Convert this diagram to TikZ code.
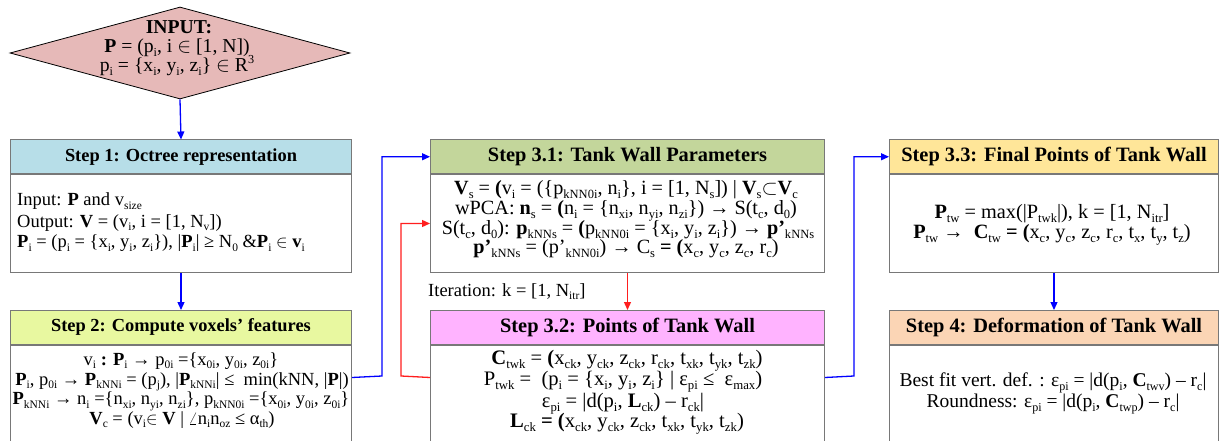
\documentclass[tikz,border=0pt]{standalone}
\usepackage{graphicx}
\usepackage{fontspec}
\setmainfont{Liberation Serif}
\usetikzlibrary{shapes.geometric,arrows.meta,calc}
\newcommand\sbx[1]{\raisebox{-0.2em}{\scalebox{0.62}{#1}}}
\newcommand\spx[1]{\raisebox{0.42em}{\scalebox{0.62}{#1}}}
\definecolor{cdia}{HTML}{E6B9B8}
\definecolor{csa}{HTML}{B7DEE8}
\definecolor{csb}{HTML}{E8F8A0}
\definecolor{csc}{HTML}{C3D69B}
\definecolor{csd}{HTML}{FFB3FF}
\definecolor{cse}{HTML}{FFE699}
\definecolor{csf}{HTML}{FBD5B5}
\definecolor{blu}{RGB}{0,0,255}
\definecolor{rd}{RGB}{255,30,30}
\definecolor{bord}{RGB}{120,120,120}
\begin{document}
\begin{tikzpicture}[x=1pt,y=-1pt,
  hdr/.style={draw=bord, line width=1pt, minimum height=33.5pt, inner sep=0pt, anchor=north west, font=\bfseries\fontsize{20.4}{22}\selectfont},
  hdrs/.style={hdr, font=\bfseries\fontsize{18.4}{20}\selectfont},
  bod/.style={draw=bord, line width=1pt, fill=white, inner sep=0pt, anchor=north},
  lnc/.style={anchor=base, inner sep=0pt},
  lnl/.style={anchor=base west, inner sep=0pt},
  fa/.style={font=\fontsize{18.5}{20}\selectfont},
  fb/.style={font=\fontsize{19.7}{20}\selectfont},
  fd/.style={font=\fontsize{20.2}{20}\selectfont},
  fe/.style={font=\fontsize{20.6}{20}\selectfont},
  ff/.style={font=\fontsize{20.3}{20}\selectfont},
  fc/.style={font=\fontsize{19.5}{20}\selectfont},
  barrow/.style={draw=blu, line width=1.3pt, -{Triangle[length=8pt,width=7pt]}},
  rarrow/.style={draw=rd, line width=1.3pt, -{Triangle[length=8pt,width=7pt]}}]
\useasboundingbox (0,0) rectangle (1219,441);
\fill[white] (0,0) rectangle (1219,441);

% input diamond
\node[diamond, draw=black, line width=0.8pt, fill=cdia, minimum width=340pt, minimum height=92pt, inner sep=0pt] (inp) at (180,53) {};
\node[lnc, fb] (ia) at (179,33.3) {\textbf{INPUT:}};
\node[lnc, fb] (ib) at (177,53) {\textbf{P} = (p\sbx{i}, i $\in$ [1, N])};
\node[lnc, fb] (ic) at (177,71.5) {p\sbx{i} = \{x\sbx{i}, y\sbx{i}, z\sbx{i}\} $\in$ R\spx{3}};

% step 1
\node[hdrs, fill=csa, minimum width=341pt] (h1) at (10,139.5) {Step 1: Octree representation};
\node[bod, minimum width=341pt, minimum height=98pt] (b1) at (h1.south) {};
\node[lnl, fa] (t1a) at (17,206) {Input: \textbf{P} and v\sbx{size}};
\node[lnl, fa] (t1b) at (17,227) {Output: \textbf{V} = (v\sbx{i}, i = [1, N\sbx{v}])};
\node[lnl, fa] (t1c) at (17,247.5) {\textbf{P}\sbx{i} = (p\sbx{i} = \{x\sbx{i}, y\sbx{i}, z\sbx{i}\}), |\textbf{P}\sbx{i}| ≥ N\sbx{0} \&\textbf{P}\sbx{i} $\in$ \textbf{v}\sbx{i}};

% step 2
\node[hdrs, fill=csb, minimum width=341pt] (h2) at (10,310) {Step 2: Compute voxels’ features};
\node[bod, minimum width=341pt, minimum height=104pt] (b2) at (h2.south) {};
\node[lnc, fa] (t2a) at (181,365) {v\sbx{i} \textbf{:} \textbf{P}\sbx{i} → p\sbx{0i} =\{x\sbx{0i}, y\sbx{0i}, z\sbx{0i}\}};
\node[lnc, fa] (t2b) at (182,385) {\textbf{P}\sbx{i}, p\sbx{0i} → \textbf{P}\sbx{kNNi} = (p\sbx{j}), |\textbf{P}\sbx{kNNi}| ≤ ~min(kNN, |\textbf{P}|)};
\node[lnc, fa] (t2c) at (181,404.5) {\textbf{P}\sbx{kNNi} → n\sbx{i} =\{n\sbx{xi}, n\sbx{yi}, n\sbx{zi}\}, p\sbx{kNN0i} =\{x\sbx{0i}, y\sbx{0i}, z\sbx{0i}\}};
\node[lnc, fa] (t2d) at (182,424) {\textbf{V}\sbx{c} = (v\sbx{i}$\in$ \textbf{V} | $\angle$n\sbx{i}n\sbx{oz} ≤ α\sbx{th})};

% step 3.1
\node[hdr, fill=csc, minimum width=394pt] (h31) at (430,139.5) {Step 3.1: Tank Wall Parameters};
\node[bod, minimum width=394pt, minimum height=98pt] (b31) at (h31.south) {};
\node[lnc, fd] (t31a) at (626,194.5) {\textbf{V}\sbx{s} = \textbf{(}v\sbx{i} = (\{p\sbx{kNN0i}, n\sbx{i}\}, i = [1, N\sbx{s}]) | \textbf{V}\sbx{s}$\subset$\textbf{V}\sbx{c}};
\node[lnc, fd] (t31b) at (626,214.5) {wPCA: \textbf{n}\sbx{s} = \textbf{(}n\sbx{i} = \{n\sbx{xi}, n\sbx{yi}, n\sbx{zi}\}) → S(t\sbx{c}, d\sbx{0})};
\node[lnc, fd] (t31c) at (628,234) {S(t\sbx{c}, d\sbx{0}): \textbf{p}\sbx{kNNs} = \textbf{(}p\sbx{kNN0i} = \{x\sbx{i}, y\sbx{i}, z\sbx{i}\}) → \textbf{p'}\sbx{kNNs}};
\node[lnc, fd] (t31d) at (626,253.5) {\textbf{p'}\sbx{kNNs} = (p’\sbx{kNN0i}) → C\sbx{s} \textbf{= (}x\sbx{c}, y\sbx{c}, z\sbx{c}, r\sbx{c})};

\node[lnl, fa] (itr) at (428,296) {Iteration: k = [1, N\sbx{itr}]};

% step 3.2
\node[hdr, fill=csd, minimum width=394pt] (h32) at (430,310) {Step 3.2: Points of Tank Wall};
\node[bod, minimum width=394pt, minimum height=104pt] (b32) at (h32.south) {};
\node[lnc, fe] (t32a) at (627,364) {\textbf{C}\sbx{twk} = \textbf{(}x\sbx{ck}, y\sbx{ck}, z\sbx{ck}, r\sbx{ck}, t\sbx{xk}, t\sbx{yk}, t\sbx{zk})};
\node[lnc, fe] (t32b) at (623,385.5) {P\sbx{twk} = ~(p\sbx{i} = \{x\sbx{i}, y\sbx{i}, z\sbx{i}\} | ε\sbx{pi} ≤ ~ε\sbx{max})};
\node[lnc, fe] (t32c) at (623,407) {ε\sbx{pi} = |d(p\sbx{i}, \textbf{L}\sbx{ck}) – r\sbx{ck}|};
\node[lnc, fe] (t32d) at (627,427.5) {\textbf{L}\sbx{ck} \textbf{= (}x\sbx{ck}, y\sbx{ck}, z\sbx{ck}, t\sbx{xk}, t\sbx{yk}, t\sbx{zk})};

% step 3.3
\node[hdr, fill=cse, minimum width=329pt] (h33) at (889,139.5) {Step 3.3: Final Points of Tank Wall};
\node[bod, minimum width=329pt, minimum height=98pt] (b33) at (h33.south) {};
\node[lnc, ff] (t33a) at (1052,218.3) {\textbf{P}\sbx{tw} = max(|P\sbx{twk}|), k = [1, N\sbx{itr}]};
\node[lnc, ff] (t33b) at (1052,238.3) {\textbf{P}\sbx{tw} → ~\textbf{C}\sbx{tw} \textbf{= (}x\sbx{c}, y\sbx{c}, z\sbx{c}, r\sbx{c}, t\sbx{x}, t\sbx{y}, t\sbx{z})};

% step 4
\node[hdr, fill=csf, minimum width=329pt] (h4) at (889,310) {Step 4: Deformation of Tank Wall};
\node[bod, minimum width=329pt, minimum height=104pt] (b4) at (h4.south) {};
\node[lnc, fc] (t4a) at (1053,386.7) {Best fit vert. def. : ε\sbx{pi} = |d(p\sbx{i}, \textbf{C}\sbx{twv}) – r\sbx{c}|};
\node[lnc, fc] (t4b) at (1053,407.3) {Roundness: ε\sbx{pi} = |d(p\sbx{i}, \textbf{C}\sbx{twp}) – r\sbx{c}|};

% connectors
\coordinate (ja) at (382,376);
\coordinate (jb) at (401,376);
\coordinate (jc) at (854,376);
\draw[barrow] (inp.south) -- (h1.north);
\draw[barrow] (b1.south) -- (h2.north);
\draw[barrow] ([yshift=-33pt]b2.north east) -- (ja) |- (h31.west);
\draw[rarrow] ([yshift=-33pt]b32.north west) -- (jb) |- (b31.west);
\draw[rarrow] (b31.south) -- (h32.north);
\draw[barrow] ([yshift=-33pt]b32.north east) -- (jc) |- (h33.west);
\draw[barrow] (b33.south) -- (h4.north);
\end{tikzpicture}
\end{document}
